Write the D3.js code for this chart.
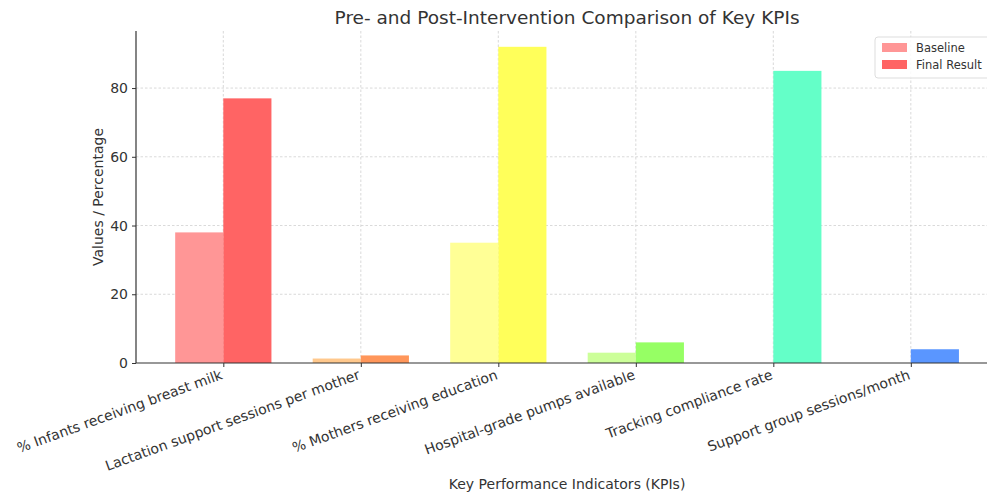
<!DOCTYPE html>
<html>
<head>
<meta charset="utf-8">
<script src="https://cdn.jsdelivr.net/npm/d3@7"></script>
<style>
  html, body { margin: 0; padding: 0; background: #fff; }
  svg { display: block; font-family: "DejaVu Sans", sans-serif; }
</style>
</head>
<body>
<svg id="chart" width="987" height="494"></svg>
<script>
const categories = [
  "% Infants receiving breast milk",
  "Lactation support sessions per mother",
  "% Mothers receiving education",
  "Hospital-grade pumps available",
  "Tracking compliance rate",
  "Support group sessions/month"
];
const baselineValues = [38, 1.3, 35, 3, 0, 0];
const finalValues = [77, 2.2, 92, 6, 85, 4];
const baselineColors = ["#ff9696", "#ffc88c", "#ffff96", "#ccff99", "#99ffdd", "#99bbff"];
const finalColors = ["#ff6464", "#ff965a", "#ffff5a", "#96ff64", "#64ffc8", "#5a96ff"];
const yTicks = [0, 20, 40, 60, 80];
const seriesNames = ["Baseline", "Final Result"];

const svg = d3.select("#chart");
const margin = { left: 136, top: 31, bottom: 363 };
const barW = 0.35;
const n = categories.length;
const xMin = -barW - 0.05 * (n - 1 + 2 * barW);
const xMax = n - 1 + barW + 0.05 * (n - 1 + 2 * barW);
const unit = 137.5;
const x = d3.scaleLinear().domain([xMin, xMax]).range([margin.left, margin.left + (xMax - xMin) * unit]);
const yMax = d3.max(finalValues.concat(baselineValues)) * 1.05;
const y = d3.scaleLinear().domain([0, yMax]).range([margin.bottom, margin.top]);

const gridColor = "#cfcfcf";
// grid
svg.append("g").selectAll("line").data(yTicks.slice(1)).join("line")
  .attr("x1", margin.left).attr("x2", 987)
  .attr("y1", d => y(d)).attr("y2", d => y(d))
  .attr("stroke", gridColor).attr("stroke-width", 0.8).attr("stroke-dasharray", "2.5,2");
svg.append("g").selectAll("line").data(d3.range(n)).join("line")
  .attr("x1", d => x(d)).attr("x2", d => x(d))
  .attr("y1", margin.top).attr("y2", margin.bottom)
  .attr("stroke", gridColor).attr("stroke-width", 0.8).attr("stroke-dasharray", "2.5,2");

// bars
const bars = svg.append("g");
bars.selectAll("rect.base").data(baselineValues).join("rect")
  .attr("class", "base")
  .attr("x", (d, i) => x(i - barW)).attr("width", x(barW) - x(0))
  .attr("y", d => y(d)).attr("height", d => y(0) - y(d))
  .attr("fill", (d, i) => baselineColors[i]);
bars.selectAll("rect.final").data(finalValues).join("rect")
  .attr("class", "final")
  .attr("x", (d, i) => x(i)).attr("width", x(barW) - x(0))
  .attr("y", d => y(d)).attr("height", d => y(0) - y(d))
  .attr("fill", (d, i) => finalColors[i]);

// axes
const yAxis = d3.axisLeft(y).tickValues(yTicks).tickSize(4).tickPadding(4);
const yg = svg.append("g").attr("transform", `translate(${margin.left},0)`).call(yAxis);
yg.select(".domain").attr("stroke", "#333").attr("stroke-width", 1.2).attr("d", `M0,${margin.bottom}V${margin.top}`);
yg.selectAll(".tick line").attr("stroke", "#333");
yg.selectAll(".tick text").attr("font-size", 14).attr("fill", "#333").attr("font-family", "DejaVu Sans");

const xAxis = d3.axisBottom(x).tickValues(d3.range(n)).tickSize(4).tickFormat(i => categories[i]);
const xg = svg.append("g").attr("transform", `translate(0,${margin.bottom})`).call(xAxis);
xg.select(".domain").attr("stroke", "#333").attr("stroke-width", 1.2).attr("d", `M${margin.left},0H987`);
xg.selectAll(".tick line").attr("stroke", "#333");
xg.selectAll(".tick text")
  .attr("font-size", 14).attr("fill", "#333").attr("font-family", "DejaVu Sans")
  .attr("text-anchor", "end").attr("dy", "0.35em")
  .attr("transform", "translate(-2,11) rotate(-20)").attr("y", 0).attr("x", 0);

// title & labels
svg.append("text").attr("x", x((xMin + xMax) / 2)).attr("y", 24).attr("text-anchor", "middle")
  .attr("font-size", 18.5).attr("fill", "#333").text("Pre- and Post-Intervention Comparison of Key KPIs");
svg.append("text").attr("x", x((xMin + xMax) / 2)).attr("y", 489).attr("text-anchor", "middle")
  .attr("font-size", 14).attr("fill", "#333").text("Key Performance Indicators (KPIs)");
svg.append("text").attr("transform", `translate(103,${(margin.top + margin.bottom) / 2}) rotate(-90)`)
  .attr("text-anchor", "middle").attr("font-size", 14).attr("fill", "#333").text("Values / Percentage");

// legend
const lg = svg.append("g").attr("transform", "translate(875,37)");
lg.append("rect").attr("width", 116).attr("height", 41).attr("rx", 3)
  .attr("fill", "#fff").attr("fill-opacity", 0.85).attr("stroke", "#ddd");
const legendColors = [baselineColors[0], finalColors[0]];
seriesNames.forEach((s, i) => {
  lg.append("rect").attr("x", 7).attr("y", 6 + i * 17).attr("width", 25).attr("height", 9).attr("fill", legendColors[i]);
  lg.append("text").attr("x", 41).attr("y", 14.5 + i * 17).attr("font-size", 11.5).attr("fill", "#333").text(s);
});
</script>
</body>
</html>
